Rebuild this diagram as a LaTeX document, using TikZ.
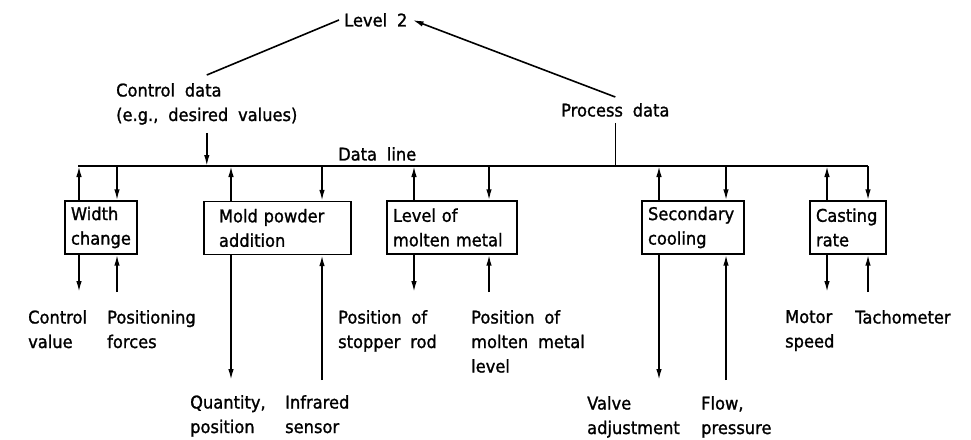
\documentclass[tikz,border=0pt]{standalone}
\usepackage{fontspec}
\setmainfont{DejaVu Sans}[WordSpace=1.9, FakeBold=1.3, FakeStretch=0.93]
\usetikzlibrary{arrows.meta}
\begin{document}
\begin{tikzpicture}[x=1pt,y=-1pt,
  fnt/.style={font=\fontsize{17.5}{24.5}\selectfont},
  txt/.style={fnt, inner sep=0pt, anchor=north west, align=left},
  box/.style={fnt, draw, line width=1.4pt, inner xsep=6pt, inner ysep=0pt, align=left, minimum height=53pt},
  ln/.style={line width=1.6pt},
  arr/.style={ln, -{Latex[length=11pt,width=5.5pt]}}
]
\useasboundingbox (0,0) rectangle (971,439);

% top
\node[fnt, inner xsep=5pt, inner ysep=0pt, anchor=north west] (lvl) at (339,13) {Level 2};
\node[fnt, inner xsep=0pt, inner ysep=8pt, anchor=north west, align=left] (ctrl) at (116,75) {Control data\\(e.g., desired values)};
\node[fnt, inner xsep=0pt, inner ysep=6pt, anchor=north west] (proc) at (561,97) {Process data};
\node[txt] (dlt) at (338,147) {Data line};

% data line
\coordinate (dl-l) at (78,166);
\coordinate (dl-r) at (868,166);
\draw[line width=1.4pt] (dl-l) -- (dl-r);

\draw[ln] (ctrl.north) -- (lvl.west);
\draw[arr] (proc.north) -- (lvl.east);
\draw[ln] (proc.south) -- (proc.south |- dl-l);
\draw[arr] (ctrl.south) -- (ctrl.south |- dl-l);

% boxes
\node[box, minimum width=72pt, text width=60pt] (wc) at (101,227.5) {Width\\change};
\node[box, minimum width=147pt, inner xsep=15pt, text width=117pt] (mp) at (277.5,228) {Mold powder\\addition};
\node[box, minimum width=130pt, text width=118pt] (lm) at (452,227.5) {Level of\\molten metal};
\node[box, minimum width=102pt, text width=90pt] (sc) at (693,227.5) {Secondary\\cooling};
\node[box, minimum width=76pt, text width=64pt] (cr) at (848,227.5) {Casting\\rate};

% connections to the data line
\foreach \b/\u/\d in {wc/79/117, mp/231/322, lm/414/489, sc/659/726, cr/827/868}{
  \coordinate (\b-uu) at (\u,166);
  \coordinate (\b-du) at (\d,166);
  \draw[arr] (\b.north -| \b-uu) -- (\b-uu);
  \draw[arr] (\b-du) -- (\b.north -| \b-du);
}

% lower free ends
\foreach \b/\u/\d/\e in {wc/79/117/292, mp/231/322/380, lm/414/489/292, sc/659/726/380, cr/827/868/292}{
  \coordinate (\b-ul) at (\u,\e);
  \coordinate (\b-dl) at (\d,\e);
  \draw[arr] (\b.south -| \b-ul) -- (\b-ul);
  \draw[arr] (\b-dl) -- (\b.south -| \b-dl);
}

% labels below
\node[txt] (l1) at (28,310) {Control\\value};
\node[txt] (l2) at (107,310) {Positioning\\forces};
\node[txt] (l3) at (190,395) {Quantity,\\position};
\node[txt] (l4) at (285,395) {Infrared\\sensor};
\node[txt] (l5) at (338,310) {Position of\\stopper rod};
\node[txt] (l6) at (471,310) {Position of\\molten metal\\level};
\node[txt] (l7) at (587,396) {Valve\\adjustment};
\node[txt] (l8) at (701,396) {Flow,\\pressure};
\node[txt] (l9) at (785,310) {Motor\\speed};
\node[txt] (l10) at (855,310) {Tachometer};
\end{tikzpicture}
\end{document}
